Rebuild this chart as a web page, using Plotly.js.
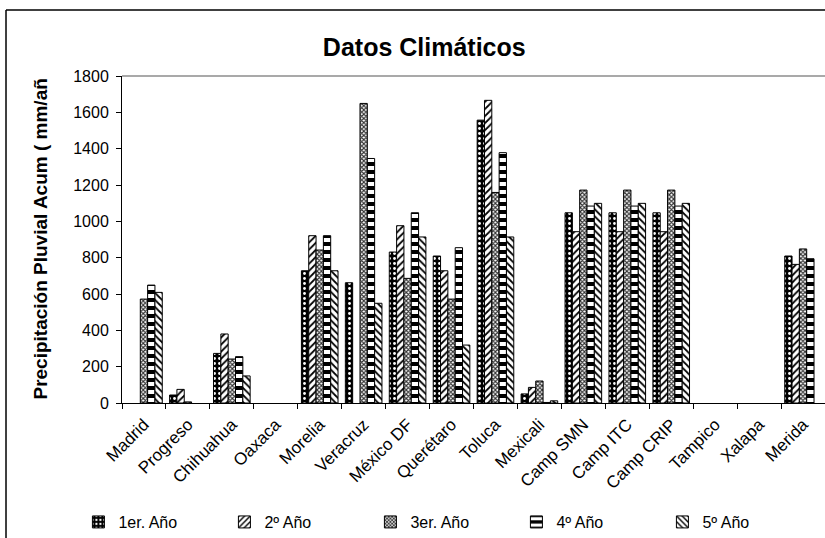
<!DOCTYPE html>
<html>
<head>
<meta charset="utf-8">
<script src="https://cdn.plot.ly/plotly-3.0.1.min.js"></script>
<style>
  html, body { margin: 0; padding: 0; background: #fff; }
  #chart { width: 825px; height: 538px; }
</style>
</head>
<body>
<div id="chart"></div>
<script>
// Stations (categories on the x axis)
const estaciones = ["Madrid", "Progreso", "Chihuahua", "Oaxaca", "Morelia", "Veracruz",
  "México DF", "Querétaro", "Toluca", "Mexicali", "Camp SMN", "Camp ITC", "Camp CRIP",
  "Tampico", "Xalapa", "Merida"];

// Accumulated rainfall (mm/año) per year of record; null = no data
const anio1 = [null, 44, 273, null, 728, 662, 831, 809, 1557, 50, 1047, 1047, 1047, null, null, 809];
const anio2 = [null, 75, 380, null, 921, null, 976, 728, 1666, 86, 943, 943, 943, null, null, 763];
const anio3 = [572, 6, 242, null, 842, 1649, 686, 572, 1159, 121, 1172, 1172, 1172, null, null, 848];
const anio4 = [649, null, 255, null, 921, 1346, 1047, 855, 1378, 3, 1084, 1084, 1084, null, null, 794];
const anio5 = [609, null, 149, null, 728, 549, 914, 319, 914, 12, 1099, 1099, 1099, null, null, null];

const nombres = ["1er. Año", "2º Año", "3er. Año", "4º Año", "5º Año"];
const yTicks = [0, 200, 400, 600, 800, 1000, 1200, 1400, 1600, 1800];

// Monochrome fill patterns, one per series
const patrones = [
  { shape: ".", bgcolor: "#000", fgcolor: "#fff", size: 5, solidity: 0.25 },
  { shape: "/", bgcolor: "#fff", fgcolor: "#000", size: 5, solidity: 0.35 },
  { shape: "x", bgcolor: "#fff", fgcolor: "#333", size: 3, solidity: 0.6 },
  { shape: "-", bgcolor: "#000", fgcolor: "#fff", size: 8, solidity: 0.5 },
  { shape: "\\", bgcolor: "#fff", fgcolor: "#000", size: 5, solidity: 0.35 }
];

const series = [anio1, anio2, anio3, anio4, anio5];
const FONT = "Arial, 'Liberation Sans', sans-serif";

const data = series.map((vals, i) => ({
  type: "bar",
  name: nombres[i],
  x: estaciones,
  y: vals,
  marker: {
    color: patrones[i].bgcolor,
    pattern: Object.assign({ fillmode: "replace" }, patrones[i]),
    line: { color: "#000", width: 1 }
  },
  hoverinfo: "x+y+name"
}));

// Outer chart frame (left and top edges) and plot-area border, in paper coords
const fx = -0.165, fyTop = 1.2018, fyBot = -0.42;

const layout = {
  width: 825,
  height: 538,
  margin: { l: 122, r: 0, t: 76, b: 135, pad: 0, autoexpand: false },
  paper_bgcolor: "#fff",
  plot_bgcolor: "#fff",
  barmode: "group",
  bargap: 0.1667,
  bargroupgap: 0,
  font: { family: FONT, color: "#000", size: 15 },
  title: {
    text: "<b>Datos Climáticos</b>",
    font: { family: FONT, size: 25, color: "#000" },
    xref: "paper", x: 0.43, xanchor: "center",
    yref: "container", y: 1 - 47 / 538, yanchor: "middle"
  },
  xaxis: {
    type: "category",
    showline: true, linecolor: "#000", linewidth: 1,
    ticks: "outside", ticklen: 5, tickcolor: "#000", tickson: "boundaries",
    tickangle: -45,
    ticklabelstandoff: 4,
    tickfont: { family: FONT, size: 17, color: "#000" },
    showgrid: false, zeroline: false, fixedrange: true
  },
  yaxis: {
    range: [0, 1800],
    tickvals: yTicks,
    ticktext: yTicks.map(String),
    showline: true, linecolor: "#000", linewidth: 1,
    ticks: "outside", ticklen: 5, tickcolor: "#000",
    ticklabelstandoff: 4,
    tickfont: { family: FONT, size: 16, color: "#000" },
    showgrid: false, zeroline: false, fixedrange: true
  },
  showlegend: true,
  legend: {
    orientation: "h",
    x: -0.062, xanchor: "left",
    y: -0.364, yanchor: "middle",
    entrywidth: 101, entrywidthmode: "pixels",
    itemwidth: 30,
    font: { family: FONT, size: 16, color: "#000" },
    bgcolor: "rgba(0,0,0,0)",
    traceorder: "normal"
  },
  annotations: [{
    text: "<b>Precipitación Pluvial Acum ( mm/añ</b>",
    xref: "paper", yref: "paper",
    x: -0.1166, y: 0.5,
    xanchor: "center", yanchor: "middle",
    textangle: -90, showarrow: false,
    font: { family: FONT, size: 19, color: "#000" }
  }],
  shapes: [
    { type: "line", xref: "paper", yref: "paper", x0: 0, x1: 1.01, y0: 1, y1: 1,
      line: { color: "#8c8c8c", width: 1.5 } },
    { type: "line", xref: "paper", yref: "paper", x0: fx, x1: fx, y0: fyBot, y1: fyTop,
      line: { color: "#000", width: 1.5 } },
    { type: "line", xref: "paper", yref: "paper", x0: fx, x1: 1.01, y0: fyTop, y1: fyTop,
      line: { color: "#000", width: 1.5 } }
  ]
};

Plotly.newPlot("chart", data, layout, { displayModeBar: false, staticPlot: true });
</script>
</body>
</html>
